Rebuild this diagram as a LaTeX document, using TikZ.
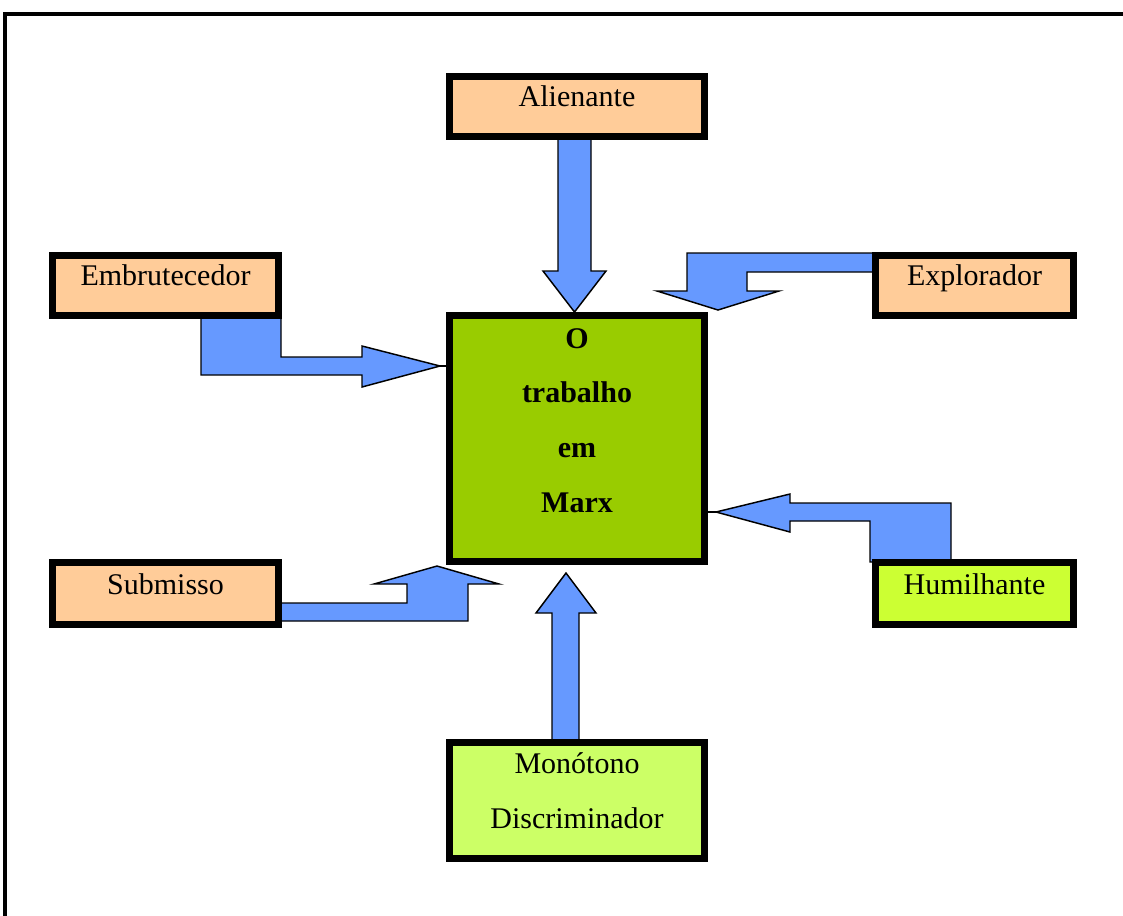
\documentclass[tikz,border=0pt]{standalone}
\usepackage{fontspec}
\setmainfont{Liberation Serif}
\usetikzlibrary{calc}

\definecolor{peach}{HTML}{FFCC99}
\definecolor{olivegreen}{HTML}{99CC00}
\definecolor{palelime}{HTML}{CCFF66}
\definecolor{brightlime}{HTML}{CCFF33}
\definecolor{arrowblue}{HTML}{6699FF}

\tikzset{
  box/.style={draw=black, line width=5.25pt, inner sep=0pt, outer sep=0pt,
              font=\fontsize{22.5}{41.25}\selectfont},
  onebox/.style={box, text height=22.125pt, text depth=22.875pt},
  blockarrow/.style={fill=arrowblue, draw=black, line width=1.1pt, line join=miter},
  leader/.style={draw=black, line width=1.1pt},
  frame/.style={draw=black, line width=3pt}
}

\begin{document}
\begin{tikzpicture}[x=0.75pt, y=-0.75pt]
  % canvas
  \fill[white] (0,0) rectangle (1123,915);
  \useasboundingbox (0,0) rectangle (1123,915);

  % outer frame (runs off the right and bottom edges)
  \draw[frame] (5,920) -- (5,14) -- (1130,14);

  % block arrows, drawn beneath the boxes
  % Alienante -> centre
  \draw[blockarrow] (558,137) -- (558,271) -- (543,271) -- (574.5,312)
        -- (606,271) -- (591,271) -- (591,137) -- cycle;
  % Embrutecedor -> centre
  \coordinate (tipE) at (440,366);
  \draw[blockarrow] (201,316) -- (201,375) -- (362,375) -- (362,387) -- (tipE)
        -- (362,346) -- (362,357) -- (281,357) -- (281,316) -- cycle;
  % Explorador -> centre
  \draw[blockarrow] (875,253) -- (687,253) -- (687,291) -- (657,291) -- (718,310)
        -- (779,291) -- (747,291) -- (747,272) -- (875,272) -- cycle;
  % Submisso -> centre
  \draw[blockarrow] (279,603) -- (407,603) -- (407,584) -- (374,584) -- (437,566)
        -- (499,584) -- (468,584) -- (468,621) -- (279,621) -- cycle;
  % Humilhante -> centre
  \coordinate (tipH) at (716,512);
  \draw[blockarrow] (951,503) -- (790,503) -- (790,494) -- (tipH) -- (790,532)
        -- (790,521) -- (870,521) -- (870,562) -- (951,562) -- cycle;
  % Monotono / Discriminador -> centre
  \draw[blockarrow] (552,742) -- (552,613) -- (536,613) -- (566,573)
        -- (596,613) -- (579,613) -- (579,742) -- cycle;

  % boxes
  \node[onebox, fill=peach, minimum width=191.25pt, minimum height=45pt]
       (ali) at (577,106.5) {Alienante};
  \node[onebox, fill=peach, minimum width=169.5pt, minimum height=45pt]
       (emb) at (165.5,285.5) {Embrutecedor};
  \node[onebox, fill=peach, minimum width=148.5pt, minimum height=45pt]
       (exp) at (974.5,285.5) {Explorador};
  \node[box, fill=peach, minimum width=169.5pt, minimum height=46.5pt,
        text height=23.625pt, text depth=22.875pt]
       (sub) at (165.5,593.5) {Submisso};
  \node[box, fill=brightlime, minimum width=148.5pt, minimum height=46.5pt,
        text height=23.625pt, text depth=22.875pt]
       (hum) at (974.5,593.5) {Humilhante};
  \node[box, fill=palelime, minimum width=191.25pt, minimum height=87pt,
        text height=22.875pt, text depth=64.125pt]
       (mon) at (577,800.5)
       {\begin{tabular}[t]{@{}c@{}}Monótono\\Discriminador\end{tabular}};
  \node[box, fill=olivegreen, minimum width=191.25pt, minimum height=184.5pt,
        text height=24.375pt, text depth=160.125pt,
        font=\fontsize{22.5}{41}\selectfont\bfseries]
       (mid) at (577,438.5)
       {\begin{tabular}[t]{@{}c@{}}O\\trabalho\\em\\Marx\end{tabular}};

  % thin leaders from arrow tips to the central box
  \draw[leader] (tipE) -- (tipE -| mid.west);
  \draw[leader] (tipH) -- (tipH -| mid.east);
\end{tikzpicture}
\end{document}
